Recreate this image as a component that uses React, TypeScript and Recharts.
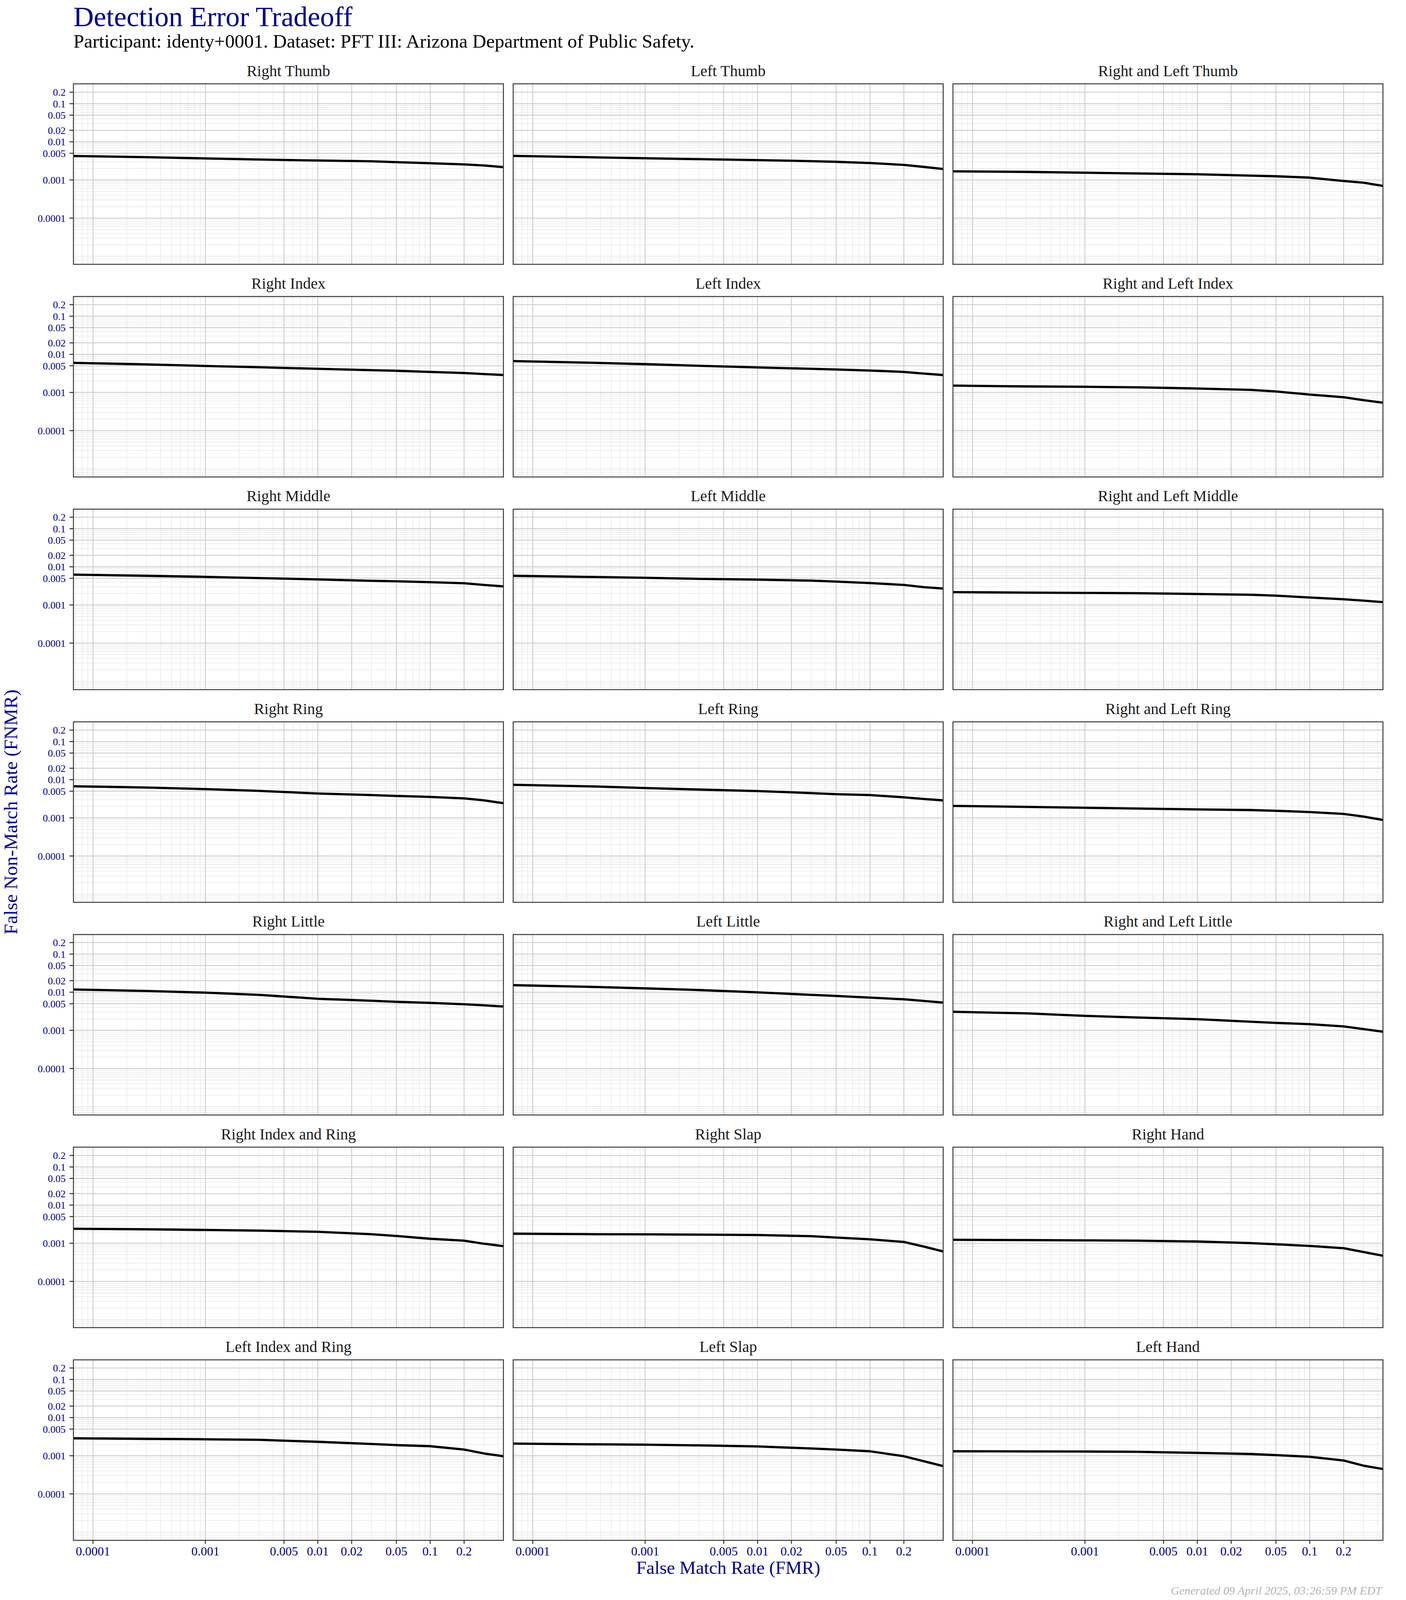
import React from 'react';
import { LineChart, Line, XAxis, YAxis, ReferenceLine } from 'recharts';

// ---------- data ----------
const FMR = [6.7e-5, 3e-4, 1e-3, 3e-3, 0.01, 0.03, 0.05, 0.1, 0.2, 0.3, 0.447];

const RIGHT_THUMB = [0.00425, 0.00395, 0.00367, 0.00343, 0.00323, 0.00309, 0.00293, 0.00274, 0.00256, 0.0024, 0.00217];
const LEFT_THUMB = [0.00428, 0.00395, 0.0037, 0.00351, 0.00332, 0.00311, 0.00299, 0.00278, 0.00248, 0.0022, 0.00194];
const RL_THUMB = [0.00168, 0.00163, 0.00155, 0.00148, 0.00141, 0.0013, 0.00125, 0.00115, 0.00094, 0.00085, 0.0007];
const RIGHT_INDEX = [0.00598, 0.00545, 0.00496, 0.00458, 0.00417, 0.00385, 0.0037, 0.00346, 0.00324, 0.00303, 0.00287];
const LEFT_INDEX = [0.00666, 0.00606, 0.00552, 0.005, 0.00452, 0.00417, 0.004, 0.00375, 0.00346, 0.00313, 0.00287];
const RL_INDEX = [0.00151, 0.00144, 0.00141, 0.00136, 0.00127, 0.00117, 0.00106, 0.00088, 0.00075, 0.00063, 0.00054];
const RIGHT_MIDDLE = [0.00623, 0.00582, 0.00545, 0.00506, 0.00467, 0.00429, 0.00417, 0.00395, 0.0037, 0.00335, 0.00307];
const LEFT_MIDDLE = [0.00582, 0.00545, 0.00516, 0.00483, 0.00461, 0.00435, 0.00409, 0.00375, 0.00335, 0.00293, 0.00269];
const RL_MIDDLE = [0.00217, 0.00211, 0.00207, 0.00203, 0.00194, 0.00185, 0.00175, 0.00157, 0.00141, 0.0013, 0.00119];
const RIGHT_RING = [0.00674, 0.00623, 0.00568, 0.0051, 0.00435, 0.00395, 0.00375, 0.00353, 0.00324, 0.00287, 0.00242];
const LEFT_RING = [0.00736, 0.00674, 0.00606, 0.00552, 0.00503, 0.00446, 0.00417, 0.00395, 0.00346, 0.00313, 0.00287];
const RL_RING = [0.00206, 0.00194, 0.00184, 0.00175, 0.00166, 0.0016, 0.00153, 0.00142, 0.00127, 0.00108, 0.00088];
const RIGHT_LITTLE = [0.0118, 0.0108, 0.00973, 0.00851, 0.00674, 0.00598, 0.0056, 0.00524, 0.00483, 0.00452, 0.00422];
const LEFT_LITTLE = [0.0153, 0.0139, 0.0126, 0.0114, 0.00994, 0.00851, 0.00796, 0.00721, 0.00652, 0.0059, 0.00534];
const RL_LITTLE = [0.00307, 0.00279, 0.0024, 0.00217, 0.00196, 0.00168, 0.00157, 0.00145, 0.00127, 0.00108, 0.00092];
const RIGHT_INDEX_RING = [0.0024, 0.00232, 0.00223, 0.00214, 0.002, 0.00172, 0.00155, 0.00131, 0.00117, 0.00097, 0.00084];
const RIGHT_SLAP = [0.00178, 0.00173, 0.00171, 0.00168, 0.00164, 0.00153, 0.00141, 0.00127, 0.00108, 0.00082, 0.00061];
const RIGHT_HAND = [0.00123, 0.00121, 0.00119, 0.00117, 0.00111, 0.00101, 0.00094, 0.00085, 0.00074, 0.00059, 0.00047];
const LEFT_INDEX_RING = [0.00287, 0.00277, 0.0027, 0.00262, 0.00232, 0.00203, 0.0019, 0.00178, 0.00145, 0.00115, 0.00097];
const LEFT_SLAP = [0.00208, 0.002, 0.00195, 0.00187, 0.00175, 0.00155, 0.00145, 0.00131, 0.00097, 0.00072, 0.000534];
const LEFT_HAND = [0.00131, 0.0013, 0.00129, 0.00127, 0.00119, 0.00111, 0.00104, 0.00094, 0.00075, 0.00055, 0.00045];

const PANEL_TITLES = [
  'Right Thumb', 'Left Thumb', 'Right and Left Thumb',
  'Right Index', 'Left Index', 'Right and Left Index',
  'Right Middle', 'Left Middle', 'Right and Left Middle',
  'Right Ring', 'Left Ring', 'Right and Left Ring',
  'Right Little', 'Left Little', 'Right and Left Little',
  'Right Index and Ring', 'Right Slap', 'Right Hand',
  'Left Index and Ring', 'Left Slap', 'Left Hand',
];
const PANEL_SERIES = [
  RIGHT_THUMB, LEFT_THUMB, RL_THUMB,
  RIGHT_INDEX, LEFT_INDEX, RL_INDEX,
  RIGHT_MIDDLE, LEFT_MIDDLE, RL_MIDDLE,
  RIGHT_RING, LEFT_RING, RL_RING,
  RIGHT_LITTLE, LEFT_LITTLE, RL_LITTLE,
  RIGHT_INDEX_RING, RIGHT_SLAP, RIGHT_HAND,
  LEFT_INDEX_RING, LEFT_SLAP, LEFT_HAND,
];

const X_TICKS = [0.0001, 0.001, 0.005, 0.01, 0.02, 0.05, 0.1, 0.2];
const Y_TICKS = [0.0001, 0.001, 0.005, 0.01, 0.02, 0.05, 0.1, 0.2];
const X_LIMITS = [1e-4, 0.3];
const Y_LIMITS = [1e-5, 0.2];

const TITLE = 'Detection Error Tradeoff';
const SUBTITLE = 'Participant: identy+0001. Dataset: PFT III: Arizona Department of Public Safety.';
const X_TITLE = 'False Match Rate (FMR)';
const Y_TITLE = 'False Non-Match Rate (FNMR)';
const FOOTER = 'Generated 09 April 2025, 03:26:59 PM EDT';

// ---------- layout / style ----------
// The captured picture is only 4096 px tall, so the 4800 px tall layout is
// compressed vertically to fit it (horizontal layout unchanged).
const PAGE_W = 3600;
const PAGE_H = 4096;
const VS = PAGE_H / 4800;

const FONT = "'Liberation Serif', 'DejaVu Serif', serif";
const NAVY = '#00008B';
const COL_X = [188, 1314, 2440];
const ROW_Y0 = 251.5 * VS;
const ROW_STEP = 638 * VS;
const PANEL_W = 1101;
const PANEL_H = Math.round(541 * VS);
const Y_AXIS_W = 188;
const X_AXIS_H = 70;

function expandLog(lim: number[]) {
  const la = Math.log10(lim[0]);
  const lb = Math.log10(lim[1]);
  const e = 0.05 * (lb - la);
  return [Math.pow(10, la - e), Math.pow(10, lb + e)];
}
const X_DOMAIN = expandLog(X_LIMITS);
const Y_DOMAIN = expandLog(Y_LIMITS);

function minorValues(domain: number[], majors: number[]) {
  const out: number[] = [];
  for (let k = -7; k <= 0; k++) {
    for (let n = 1; n <= 9; n++) {
      const v = Number((n * Math.pow(10, k)).toPrecision(3));
      if (v >= domain[0] && v <= domain[1] && !majors.some((m) => Math.abs(m - v) / v < 1e-6)) out.push(v);
    }
  }
  return out;
}
const X_MINOR = minorValues(X_DOMAIN, X_TICKS);
const Y_MINOR = minorValues(Y_DOMAIN, Y_TICKS);

const fmt = (v: number) => String(v);

function Panel({ index }: { index: number }) {
  const row = Math.floor(index / 3);
  const col = index % 3;
  const showY = col === 0;
  const showX = row === 6;
  const values = PANEL_SERIES[index];
  const data = FMR.map((f, i) => ({ fmr: f, fnmr: values[i] }));
  const left = COL_X[col] - (showY ? Y_AXIS_W : 0);
  const top = ROW_Y0 + ROW_STEP * row;
  const width = PANEL_W + (showY ? Y_AXIS_W : 0);
  const height = PANEL_H + (showX ? X_AXIS_H : 0);
  return (
    <div style={{ position: 'absolute', left, top, width, height }}>
      <LineChart width={width} height={height} data={data} margin={{ top: 0, right: 0, bottom: 0, left: 0 }}>
        <XAxis
          dataKey="fmr"
          type="number"
          scale="log"
          domain={X_DOMAIN}
          allowDataOverflow
          ticks={X_TICKS}
          tickFormatter={fmt}
          hide={!showX}
          height={X_AXIS_H}
          axisLine={false}
          tickLine={{ stroke: '#333333', strokeWidth: 2.5 }}
          tickSize={9}
          tickMargin={7}
          interval={0}
          tick={{ fill: NAVY, fontSize: 32, fontFamily: FONT }}
        />
        <YAxis
          dataKey="fnmr"
          type="number"
          scale="log"
          domain={Y_DOMAIN}
          allowDataOverflow
          ticks={Y_TICKS}
          tickFormatter={fmt}
          hide={!showY}
          width={Y_AXIS_W}
          axisLine={false}
          tickLine={{ stroke: '#333333', strokeWidth: 2.5 }}
          tickSize={10}
          tickMargin={10}
          interval={0}
          tick={{ fill: NAVY, fontSize: 26, fontFamily: FONT }}
        />
        {X_MINOR.map((v) => (
          <ReferenceLine key={'xm' + v} x={v} stroke="#e6e6e6" strokeWidth={1.3} ifOverflow="discard" />
        ))}
        {Y_MINOR.map((v) => (
          <ReferenceLine key={'ym' + v} y={v} stroke="#e6e6e6" strokeWidth={1.3} ifOverflow="discard" />
        ))}
        {X_TICKS.map((v) => (
          <ReferenceLine key={'xM' + v} x={v} stroke="#cccccc" strokeWidth={2.2} ifOverflow="discard" />
        ))}
        {Y_TICKS.map((v) => (
          <ReferenceLine key={'yM' + v} y={v} stroke="#cccccc" strokeWidth={2.2} ifOverflow="discard" />
        ))}
        <Line
          dataKey="fnmr"
          type="linear"
          stroke="#000000"
          strokeWidth={5.8}
          dot={false}
          activeDot={false}
          isAnimationActive={false}
          strokeLinejoin="round"
        />
      </LineChart>
    </div>
  );
}

export default function App() {
  const panels = PANEL_TITLES.map((_, i) => i);
  const plotBottom = ROW_Y0 + ROW_STEP * 6 + PANEL_H;
  const plotMidY = (ROW_Y0 + plotBottom) / 2;
  const plotMidX = (COL_X[0] + COL_X[2] + PANEL_W) / 2;
  return (
    <div
      style={{
        position: 'relative',
        marginLeft: -8,
        marginTop: -8,
        width: PAGE_W,
        height: PAGE_H,
        background: '#ffffff',
        overflow: 'hidden',
      }}
    >
      {panels.map((i) => (
        <Panel key={i} index={i} />
      ))}
      <svg
        width={PAGE_W}
        height={PAGE_H}
        style={{ position: 'absolute', left: 0, top: 0, pointerEvents: 'none' }}
        fontFamily={FONT}
      >
        {panels.map((i) => {
          const row = Math.floor(i / 3);
          const col = i % 3;
          const x = COL_X[col];
          const y = ROW_Y0 + ROW_STEP * row;
          return (
            <g key={i}>
              <rect x={x} y={y} width={PANEL_W} height={PANEL_H} fill="none" stroke="#333333" strokeWidth={2.4} />
              <text x={x + PANEL_W / 2} y={y - 20} textAnchor="middle" fontSize={40} fill="#1a1a1a">
                {PANEL_TITLES[i]}
              </text>
            </g>
          );
        })}
        <text x={188} y={67} fontSize={72} fill={NAVY}>{TITLE}</text>
        <text x={188} y={122} fontSize={49} fill="#000000">{SUBTITLE}</text>
        <text x={plotMidX} y={plotBottom + 86} fontSize={47} fill={NAVY} textAnchor="middle">{X_TITLE}</text>
        <text
          x={44}
          y={plotMidY}
          fontSize={49}
          fill={NAVY}
          textAnchor="middle"
          transform={`rotate(-90 44 ${plotMidY})`}
        >
          {Y_TITLE}
        </text>
        <text x={3538} y={PAGE_H - 14} fontSize={30} fill="#b3b3b3" fontStyle="italic" textAnchor="end">{FOOTER}</text>
      </svg>
    </div>
  );
}
